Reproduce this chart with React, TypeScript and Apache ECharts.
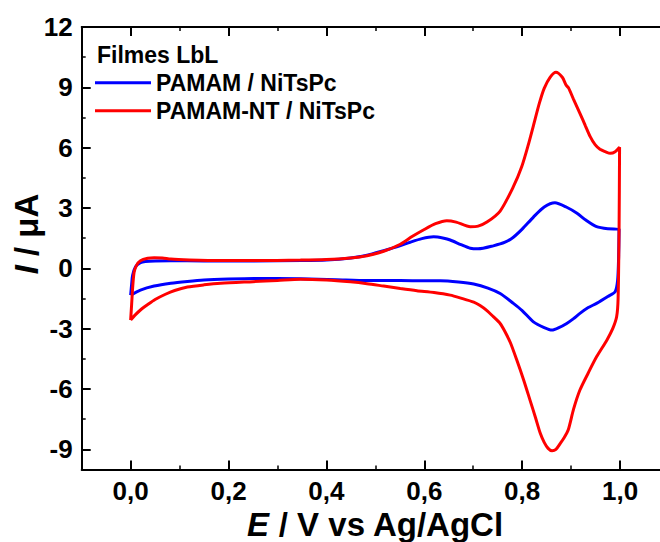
import React, { useEffect, useRef } from "react";
import * as echarts from "echarts";

// Potential (V vs Ag/AgCl) and current (µA)
const pamamE = [0.0, 0.002, 0.004, 0.01, 0.02, 0.03, 0.05, 0.082, 0.15, 0.25, 0.35, 0.4, 0.45, 0.483, 0.517, 0.55, 0.571, 0.595, 0.619, 0.64, 0.653, 0.675, 0.694, 0.71, 0.741, 0.765, 0.782, 0.8, 0.823, 0.845, 0.867, 0.89, 0.912, 0.93, 0.952, 0.975, 0.998,
  0.997, 0.995, 0.99, 0.975, 0.952, 0.935, 0.918, 0.905, 0.891, 0.875, 0.861, 0.845, 0.823, 0.8, 0.782, 0.755, 0.73, 0.701, 0.67, 0.633, 0.6, 0.551, 0.483, 0.42, 0.347, 0.252, 0.2, 0.15, 0.116, 0.082, 0.048, 0.02, 0.0];
const pamamI = [-1.33, -0.8, -0.35, 0.08, 0.28, 0.34, 0.37, 0.38, 0.37, 0.37, 0.39, 0.42, 0.52, 0.65, 0.88, 1.12, 1.3, 1.48, 1.57, 1.5, 1.41, 1.18, 1.0, 0.97, 1.12, 1.3, 1.55, 1.95, 2.55, 3.05, 3.26, 3.05, 2.74, 2.4, 2.07, 1.97, 1.95,
  0.5, -0.6, -1.16, -1.4, -1.74, -1.95, -2.24, -2.5, -2.74, -2.95, -3.07, -2.95, -2.66, -2.1, -1.74, -1.25, -0.98, -0.78, -0.68, -0.62, -0.62, -0.6, -0.6, -0.56, -0.52, -0.5, -0.53, -0.58, -0.65, -0.74, -0.88, -1.08, -1.33];

const ntE = [0.0, 0.002, 0.004, 0.007, 0.012, 0.02, 0.035, 0.048, 0.065, 0.082, 0.12, 0.184, 0.25, 0.347, 0.4, 0.449, 0.483, 0.517, 0.551, 0.575, 0.599, 0.623, 0.646, 0.665, 0.694, 0.71, 0.728, 0.755, 0.782, 0.799, 0.812, 0.823, 0.835, 0.845, 0.857, 0.869, 0.882, 0.89, 0.895, 0.905, 0.918, 0.929, 0.939, 0.949, 0.959, 0.97, 0.98, 0.99, 0.999,
  0.998, 0.996, 0.993, 0.985, 0.973, 0.952, 0.935, 0.918, 0.905, 0.894, 0.885, 0.878, 0.869, 0.861, 0.853, 0.845, 0.837, 0.827, 0.816, 0.803, 0.789, 0.776, 0.765, 0.755, 0.741, 0.728, 0.714, 0.701, 0.675, 0.653, 0.62, 0.585, 0.551, 0.517, 0.483, 0.449, 0.4, 0.347, 0.3, 0.25, 0.184, 0.15, 0.116, 0.09, 0.07, 0.05, 0.035, 0.02, 0.01, 0.0];
const ntI = [-2.57, -1.8, -1.0, -0.2, 0.15, 0.38, 0.5, 0.53, 0.52, 0.46, 0.42, 0.39, 0.39, 0.41, 0.44, 0.52, 0.63, 0.85, 1.2, 1.58, 1.92, 2.22, 2.37, 2.3, 2.07, 2.1, 2.3, 2.85, 4.06, 5.05, 6.1, 7.1, 8.2, 8.95, 9.5, 9.75, 9.5, 9.1, 8.96, 8.4, 7.71, 7.1, 6.55, 6.15, 5.92, 5.8, 5.72, 5.8, 6.02,
  2.0, -1.5, -2.41, -3.0, -3.57, -4.4, -5.2, -6.05, -7.0, -8.04, -8.45, -8.7, -9.0, -9.07, -8.95, -8.65, -8.2, -7.4, -6.55, -5.55, -4.56, -3.7, -3.15, -2.74, -2.4, -2.1, -1.85, -1.68, -1.48, -1.33, -1.2, -1.11, -1.0, -0.88, -0.76, -0.67, -0.58, -0.54, -0.6, -0.66, -0.74, -0.82, -0.93, -1.1, -1.3, -1.55, -1.8, -2.07, -2.3, -2.57];

const seriesNames = ["PAMAM / NiTsPc", "PAMAM-NT / NiTsPc"];
const seriesColors = ["#0000ff", "#ff0000"];
const legendTitle = "Filmes LbL";

const xMajorTicks = [0, 0.2, 0.4, 0.6, 0.8, 1.0];
const xMinorTicks = [0.1, 0.3, 0.5, 0.7, 0.9];
const yMajorTicks = [-9, -6, -3, 0, 3, 6, 9, 12];
const yMinorTicks = [-7.5, -4.5, -1.5, 1.5, 4.5, 7.5, 10.5];

const FONT = "'Liberation Sans', Arial, sans-serif";

const zip = (xs: number[], ys: number[]) => xs.map((x, i) => [x, ys[i]]);

export default function App() {
  const ref = useRef<HTMLDivElement>(null);
  useEffect(() => {
    if (!ref.current) return;
    const chart = echarts.init(ref.current, undefined, { renderer: "svg" });
    const axisLine = { show: true, onZero: false, lineStyle: { color: "#000", width: 2 } };
    const noLine = { show: false, onZero: false };
    const xBase = { type: "value", min: -0.1, max: 1.1, splitLine: { show: false } };
    const yBase = { type: "value", min: -10, max: 12, splitLine: { show: false } };
    chart.setOption({
      animation: false,
      backgroundColor: "#fff",
      grid: { left: 81.7, right: -9, top: 27, bottom: 72.5, show: false, outerBoundsMode: "none", containLabel: false },
      title: {
        text: legendTitle,
        left: 97,
        top: 43,
        padding: 0,
        textStyle: { fontFamily: FONT, fontSize: 23, fontWeight: "bold", color: "#000" },
      },
      legend: {
        data: seriesNames,
        orient: "vertical",
        left: 95,
        top: 71.2,
        padding: 0,
        itemWidth: 56,
        itemHeight: 3,
        itemGap: 5,
        icon: "rect",
        textStyle: { fontFamily: FONT, fontSize: 23, fontWeight: "bold", color: "#000", lineHeight: 23 },
      },
      xAxis: [
        {
          ...xBase,
          position: "bottom",
          axisLine,
          axisTick: { show: true, inside: true, length: 9, customValues: xMajorTicks, lineStyle: { color: "#000", width: 2 } },
          axisLabel: {
            customValues: xMajorTicks,
            margin: 8,
            fontFamily: FONT,
            fontSize: 26,
            fontWeight: "bold",
            color: "#000",
            formatter: (v: number) => v.toFixed(1).replace(".", ","),
          },
          name: "{i|E} / V vs Ag/AgCl",
          nameLocation: "middle",
          nameGap: 36,
          nameTextStyle: {
            fontFamily: FONT,
            fontSize: 33,
            fontWeight: "bold",
            color: "#000",
            rich: { i: { fontFamily: FONT, fontSize: 33, fontWeight: "bold", fontStyle: "italic", color: "#000" } },
          },
        },
        {
          ...xBase,
          position: "bottom",
          axisLine: noLine,
          axisLabel: { show: false },
          axisTick: { show: true, inside: true, length: 4, customValues: xMinorTicks, lineStyle: { color: "#000", width: 1.5 } },
        },
        {
          ...xBase,
          position: "top",
          axisLine,
          axisLabel: { show: false },
          axisTick: { show: true, inside: true, length: 9, customValues: xMajorTicks, lineStyle: { color: "#000", width: 2 } },
        },
        {
          ...xBase,
          position: "top",
          axisLine: noLine,
          axisLabel: { show: false },
          axisTick: { show: true, inside: true, length: 4, customValues: xMinorTicks, lineStyle: { color: "#000", width: 1.5 } },
        },
      ],
      yAxis: [
        {
          ...yBase,
          position: "left",
          axisLine,
          axisTick: { show: true, inside: true, length: 9, customValues: yMajorTicks, lineStyle: { color: "#000", width: 2 } },
          axisLabel: {
            customValues: yMajorTicks,
            margin: 9,
            fontFamily: FONT,
            fontSize: 26,
            fontWeight: "bold",
            color: "#000",
          },
        },
        {
          ...yBase,
          position: "left",
          axisLine: noLine,
          axisLabel: { show: false },
          axisTick: { show: true, inside: true, length: 4, customValues: yMinorTicks, lineStyle: { color: "#000", width: 1.5 } },
        },
      ],
      graphic: [
        {
          type: "text",
          x: 26,
          y: 234,
          rotation: Math.PI / 2,
          style: {
            text: "{i|I} / μA",
            align: "center",
            verticalAlign: "middle",
            fontFamily: FONT,
            fontSize: 33,
            fontWeight: "bold",
            fill: "#000",
            rich: { i: { fontFamily: FONT, fontSize: 33, fontWeight: "bold", fontStyle: "italic", fill: "#000" } },
          },
        },
      ],
      series: [
        {
          name: seriesNames[0],
          type: "line",
          xAxisIndex: 0,
          yAxisIndex: 0,
          data: zip(pamamE, pamamI),
          symbol: "none",
          smooth: 0.25,
          color: seriesColors[0],
          lineStyle: { width: 3, color: seriesColors[0] },
        },
        {
          name: seriesNames[1],
          type: "line",
          xAxisIndex: 0,
          yAxisIndex: 0,
          data: zip(ntE, ntI),
          symbol: "none",
          smooth: 0.25,
          color: seriesColors[1],
          lineStyle: { width: 3, color: seriesColors[1] },
        },
      ],
    });
    return () => chart.dispose();
  }, []);
  return <div ref={ref} style={{ position: "fixed", left: 0, top: 0, width: 660, height: 542 }} />;
}
